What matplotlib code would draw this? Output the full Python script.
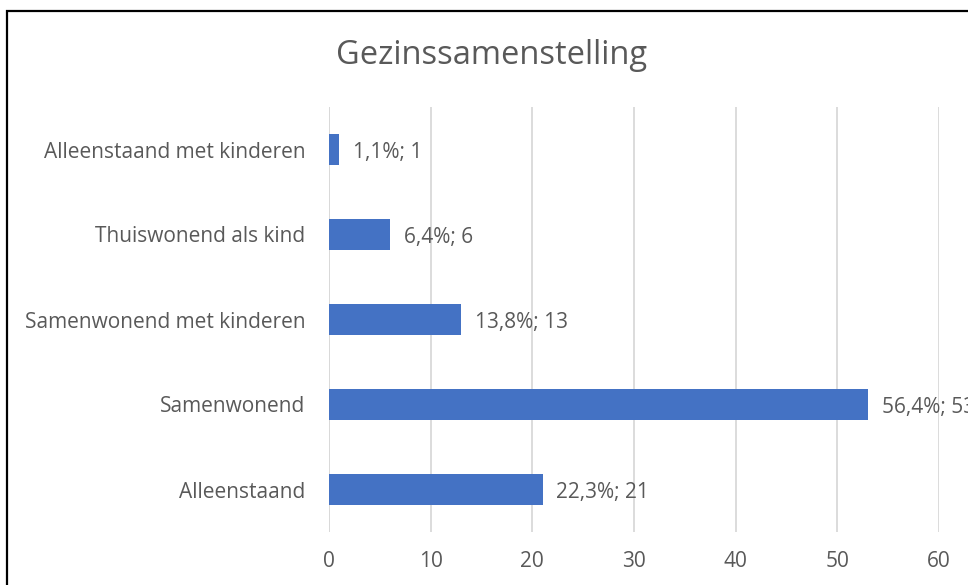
import matplotlib.pyplot as plt
from matplotlib.patches import Rectangle

# Gegevens
categorieen = ['Alleenstaand', 'Samenwonend', 'Samenwonend met kinderen',
               'Thuiswonend als kind', 'Alleenstaand met kinderen']
aantallen = [21, 53, 13, 6, 1]
percentages = ['22,3%', '56,4%', '13,8%', '6,4%', '1,1%']
x_ticks = [0, 10, 20, 30, 40, 50, 60]

BLAUW = '#4472C4'
GRIJS = '#595959'

plt.rcParams['font.family'] = ['Open Sans', 'DejaVu Sans']

fig = plt.figure(figsize=(9.68, 5.85), dpi=100)
W, H = 968, 585
ax = fig.add_axes([329 / W, 1 - 532 / H, (939 - 329) / W, (532 - 107) / H])

ax.barh(range(len(categorieen)), aantallen, height=0.36, color=BLAUW, zorder=3)

for i, (n, p) in enumerate(zip(aantallen, percentages)):
    ax.annotate(f'{p}; {n}', xy=(n, i), xytext=(10, -2), textcoords='offset points',
                va='center', ha='left', fontsize=15, color=GRIJS, annotation_clip=False)

ax.set_xlim(0, 60)
ax.set_ylim(-0.5, len(categorieen) - 0.5)
ax.set_xticks(x_ticks)
ax.set_yticks(range(len(categorieen)))
ax.set_yticklabels(categorieen)
ax.tick_params(axis='both', length=0, labelsize=15, labelcolor=GRIJS)
ax.tick_params(axis='y', pad=17)
ax.tick_params(axis='x', pad=14)
ax.grid(axis='x', color='#D9D9D9', linewidth=1.3, zorder=0)
for s in ax.spines.values():
    s.set_visible(False)
ax.axvline(0, color='#D9D9D9', linewidth=1.3, zorder=0)

fig.text(492 / W, 1 - 55 / H, 'Gezinssamenstelling', ha='center', va='center',
         fontsize=23.5, color=GRIJS)

# rand van de grafiek (rechts en onder afgesneden)
fig.patches.append(Rectangle((7 / W, -0.1), 1.2, 1 - 11 / H + 0.1, transform=fig.transFigure,
                             fill=False, edgecolor='black', linewidth=1.6))

fig.savefig('out.png', dpi=100)
